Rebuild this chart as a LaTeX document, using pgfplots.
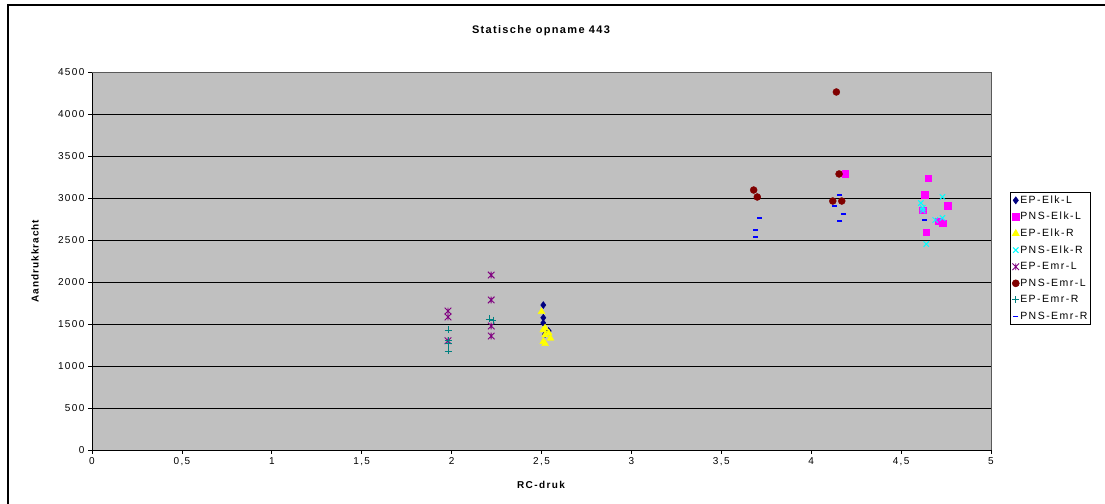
\documentclass[border=0pt]{standalone}
\usepackage{fontspec}
\setmainfont{Liberation Sans}[LetterSpace=10]
\newfontfamily\wideface{Liberation Sans}[LetterSpace=14]
\newfontfamily\titleface{Liberation Sans}[LetterSpace=12]
\usepackage{pgfplots}
\pgfplotsset{compat=1.18}
\definecolor{bgray}{HTML}{C0C0C0}
\definecolor{cnavy}{HTML}{000080}
\definecolor{cmag}{HTML}{FF00FF}
\definecolor{cyel}{HTML}{FFFF00}
\definecolor{ccyan}{HTML}{00FFFF}
\definecolor{cpurp}{HTML}{800080}
\definecolor{cdred}{HTML}{800000}
\definecolor{cteal}{HTML}{008080}
\definecolor{cblue}{HTML}{0000FF}
\pgfdeclareplotmark{xstar}{%
  \pgfpathmoveto{\pgfqpoint{-\pgfplotmarksize}{-\pgfplotmarksize}}%
  \pgfpathlineto{\pgfqpoint{\pgfplotmarksize}{\pgfplotmarksize}}%
  \pgfpathmoveto{\pgfqpoint{-\pgfplotmarksize}{\pgfplotmarksize}}%
  \pgfpathlineto{\pgfqpoint{\pgfplotmarksize}{-\pgfplotmarksize}}%
  \pgfpathmoveto{\pgfqpoint{0pt}{-\pgfplotmarksize}}%
  \pgfpathlineto{\pgfqpoint{0pt}{\pgfplotmarksize}}%
  \pgfusepathqstroke}
\begin{document}
\begin{tikzpicture}
\useasboundingbox (0,0) rectangle (1105bp,504bp);
\fill[white] (0,0) rectangle (1105bp,504bp);
\draw[line width=2bp] (8bp,-10bp) -- (8bp,499bp) -- (1115bp,499bp);
\node[font=\fontsize{11bp}{13bp}\titleface\bfseries] at (541bp,473bp) {Statische opname 443};
\node[font=\fontsize{10bp}{12bp}\selectfont\bfseries,rotate=90] at (35bp,243bp) {Aandrukkracht};
\node[font=\fontsize{10bp}{12bp}\wideface\bfseries] at (541bp,19bp) {RC-druk};
\begin{axis}[
  at={(92bp,54bp)}, anchor=south west,
  scale only axis, width=899bp, height=378bp,
  xmin=0, xmax=5, ymin=0, ymax=4500,
  xtick={0,0.5,...,5}, ytick={0,500,...,4500},
  axis background/.style={fill=bgray},
  axis x line*=bottom, axis y line*=left,
  axis line style={black, line width=0.8bp},
  ymajorgrids, major grid style={black, line width=0.6bp},
  tick align=outside, major tick length=4bp,
  tick style={black, line width=0.8bp},
  every tick label/.append style={font=\fontsize{10bp}{12bp}\wideface},
  /pgf/number format/assume math mode=true,
  xticklabel style={/pgf/number format/.cd, use comma, fixed},
  yticklabel style={/pgf/number format/.cd, fixed, 1000 sep={}},
  legend style={at={(1.0211,0.6825)}, anchor=north west, draw=black, line width=0.6bp,
    font=\fontsize{10.5bp}{12bp}\wideface, inner sep=2bp, row sep=4.6bp,
    nodes={inner sep=1bp, text height=8bp, text depth=2bp}},
  legend cell align=left,
  legend image code/.code={\draw[mark repeat=2,mark phase=2] plot coordinates {(0cm,0cm) (0.1cm,0cm) (0.2cm,0cm)};},
  clip=false,
]
\draw[gray!70!black, line width=0.8bp] (axis cs:0,4500) -- (axis cs:5,4500) -- (axis cs:5,0);
% EP-Elk-L
\addplot[only marks, mark=diamond*, mark size=3.5bp, color=cnavy] coordinates {
(2.51,1726) (2.51,1575) (2.51,1512) (2.54,1417) (2.52,1380)};
\addlegendentry{EP-Elk-L}
% PNS-Elk-L
\addplot[only marks, mark=square*, mark size=3.3bp, color=cmag] coordinates {
(4.19,3286) (4.65,3238) (4.63,3036) (4.76,2905) (4.62,2857) (4.71,2726) (4.73,2702) (4.64,2595)};
\addlegendentry{PNS-Elk-L}
% EP-Elk-R
\addplot[only marks, mark=triangle*, mark size=4bp, color=cyel] coordinates {
(2.50,1646) (2.52,1452) (2.51,1430) (2.54,1393) (2.52,1369) (2.55,1330) (2.51,1290) (2.52,1265)};
\addlegendentry{EP-Elk-R}
% PNS-Elk-R
\addplot[only marks, mark=x, mark size=3.8bp, color=ccyan, line width=1bp] coordinates {
(4.73,3012) (4.61,2940) (4.62,2881) (4.62,2850) (4.69,2738) (4.73,2762) (4.64,2452)};
\addlegendentry{PNS-Elk-R}
% EP-Emr-L
\addplot[only marks, mark=xstar, mark size=3.3bp, color=cpurp, line width=0.9bp] coordinates {
(1.98,1655) (1.98,1583) (1.98,1300) (2.22,2083) (2.22,1786) (2.22,1476) (2.22,1357)};
\addlegendentry{EP-Emr-L}
% PNS-Emr-L
\addplot[only marks, mark=*, mark size=3.5bp, color=cdred] coordinates {
(3.68,3095) (3.70,3012) (4.14,4262) (4.155,3286) (4.12,2964) (4.17,2964)};
\addlegendentry{PNS-Emr-L}
% EP-Emr-R
\addplot[only marks, mark=+, mark size=3.5bp, color=cteal, line width=0.9bp] coordinates {
(1.98,1429) (1.98,1300) (1.98,1265) (1.98,1179) (2.21,1560) (2.23,1545)};
\addlegendentry{EP-Emr-R}
% PNS-Emr-R
\addplot[only marks, mark=-, mark size=2.5bp, color=cblue, line width=1.8bp] coordinates {
(3.71,2762) (3.69,2619) (3.69,2536) (4.16,3036) (4.13,2905) (4.18,2810) (4.16,2726) (4.63,2738)};
\addlegendentry{PNS-Emr-R}
\end{axis}
\end{tikzpicture}
\end{document}
